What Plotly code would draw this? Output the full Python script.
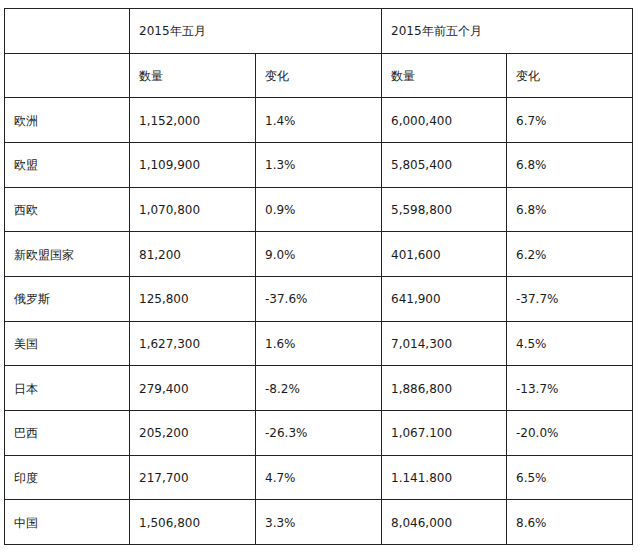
import plotly.graph_objects as go

# table contents
regions = ["欧洲", "欧盟", "西欧", "新欧盟国家", "俄罗斯", "美国", "日本", "巴西", "印度", "中国"]
may_volume = ["1,152,000", "1,109,900", "1,070,800", "81,200", "125,800",
              "1,627,300", "279,400", "205,200", "217,700", "1,506,800"]
may_change = ["1.4%", "1.3%", "0.9%", "9.0%", "-37.6%", "1.6%", "-8.2%", "-26.3%", "4.7%", "3.3%"]
ytd_volume = ["6,000,400", "5,805,400", "5,598,800", "401,600", "641,900",
              "7,014,300", "1,886,800", "1,067.100", "1.141.800", "8,046,000"]
ytd_change = ["6.7%", "6.8%", "6.8%", "6.2%", "-37.7%", "4.5%", "-13.7%", "-20.0%", "6.5%", "8.6%"]
group_headers = ["2015年五月", "2015年前五个月"]
sub_headers = ["数量", "变化"]

# layout of the grid (pixels)
W, H = 640, 552
col_edges = [4, 129, 255, 381, 506, 632]
top, bottom = 8, 544
n_rows = 2 + len(regions)
row_h = (bottom - top) / n_rows
row_edges = [top + i * row_h for i in range(n_rows + 1)]
pad = 8
line_color = "#222222"
font = dict(family="DejaVu Sans, Verdana, sans-serif", size=12, color="#1a1a1a")

fig = go.Figure()
shapes = []
# horizontal rules
for y in row_edges:
    yy = round(y) + 0.5
    shapes.append(dict(type="line", x0=col_edges[0], x1=col_edges[-1] + 1, y0=yy, y1=yy))
# vertical rules; the inner lines of each group start below the merged header
for i, x in enumerate(col_edges):
    y0 = row_edges[1] if i in (2, 4) else row_edges[0]
    shapes.append(dict(type="line", x0=x + 0.5, x1=x + 0.5, y0=round(y0), y1=bottom + 1))
for s in shapes:
    s.update(xref="x", yref="y", line=dict(color=line_color, width=1))

annotations = []


def cell(col, row, text):
    yc = (row_edges[row] + row_edges[row + 1]) / 2 + 1
    annotations.append(dict(x=col_edges[col] + pad, y=yc, text=text, xref="x", yref="y",
                            xanchor="left", yanchor="middle", showarrow=False, font=font))


cell(1, 0, group_headers[0])
cell(3, 0, group_headers[1])
for k, h in enumerate(sub_headers * 2):
    cell(1 + k, 1, h)
for r, name in enumerate(regions):
    row = r + 2
    cell(0, row, name)
    cell(1, row, may_volume[r])
    cell(2, row, may_change[r])
    cell(3, row, ytd_volume[r])
    cell(4, row, ytd_change[r])

fig.update_layout(
    width=W, height=H,
    margin=dict(l=0, r=0, t=0, b=0),
    paper_bgcolor="white", plot_bgcolor="white",
    xaxis=dict(range=[0, W], visible=False, fixedrange=True),
    yaxis=dict(range=[H, 0], visible=False, fixedrange=True),
    shapes=shapes,
    annotations=annotations,
    showlegend=False,
)

# drop the browser's default body margin so the figure sits at the window origin
fig.write_html("out.html", config={"displayModeBar": False},
               post_script="document.body.style.margin='0';document.body.style.overflow='hidden';")
